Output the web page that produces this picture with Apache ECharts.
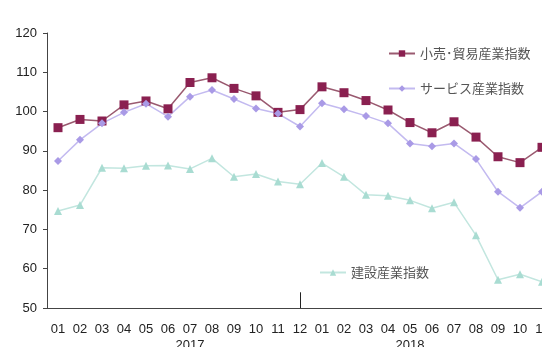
<!DOCTYPE html>
<html>
<head>
<meta charset="utf-8">
<title>産業指数の推移</title>
<script src="https://cdn.jsdelivr.net/npm/echarts@6/dist/echarts.min.js"></script>
<style>
  html, body { margin: 0; padding: 0; background: #fff; }
  #chart { width: 542px; height: 347px; }
</style>
</head>
<body>
<div id="chart"></div>
<script>
// months 2017-01 .. 2018-11
var months = ['01','02','03','04','05','06','07','08','09','10','11','12',
              '01','02','03','04','05','06','07','08','09','10','11'];
var yearAt = { 6: '2017', 16: '2018' };

var retail = [95.9, 98.0, 97.6, 101.7, 102.7, 100.7, 107.4, 108.6, 105.9, 104.0, 99.8, 100.5,
              106.3, 104.8, 102.8, 100.4, 97.2, 94.6, 97.4, 93.5, 88.5, 87.0, 90.9];
var service = [87.4, 92.8, 97.0, 99.8, 102.0, 98.7, 103.8, 105.5, 103.2, 100.8, 99.5, 96.2,
               102.1, 100.6, 98.9, 97.0, 91.9, 91.2, 91.9, 87.9, 79.6, 75.5, 79.6];
var construction = [74.7, 76.2, 85.7, 85.6, 86.2, 86.3, 85.4, 88.1, 83.4, 84.1, 82.2, 81.5,
                    86.9, 83.4, 78.8, 78.6, 77.4, 75.4, 76.9, 68.5, 57.2, 58.6, 56.7];

var names = ['小売･貿易産業指数', 'サービス産業指数', '建設産業指数'];

var chart = echarts.init(document.getElementById('chart'));
var font = 'Liberation Sans, Arial, sans-serif';
var jpFont = 'Noto Sans CJK JP, sans-serif';

var legendBase = {
  orient: 'vertical',
  itemWidth: 26,
  itemHeight: 8,
  textStyle: { fontFamily: jpFont, fontSize: 13, color: '#555' }
};

chart.setOption({
  animation: false,
  backgroundColor: '#fff',
  legend: [
    Object.assign({}, legendBase, { data: [names[0], names[1]], left: 383, top: 42, itemGap: 22 }),
    Object.assign({}, legendBase, { data: [names[2]], left: 314, top: 261 })
  ],
  // the source chart runs past the right and bottom edges of the picture
  grid: { left: 47, width: 506, top: 33, bottom: 39, outerBoundsMode: 'none' },
  xAxis: {
    type: 'category',
    data: months,
    boundaryGap: true,
    axisLine: { lineStyle: { color: '#444', width: 1 } },
    axisTick: { alignWithLabel: true, length: 4, lineStyle: { color: '#444' } },
    axisLabel: {
      interval: 0,
      margin: 13,
      fontFamily: font,
      fontSize: 13,
      color: '#222',
      lineHeight: 16,
      formatter: function (v, i) { return yearAt[i] ? v + '\n' + yearAt[i] : v; }
    }
  },
  yAxis: {
    type: 'value',
    min: 50, max: 120, interval: 10,
    splitLine: { show: false },
    axisLine: { show: true, lineStyle: { color: '#444' } },
    axisTick: { show: true, length: 4, lineStyle: { color: '#444' } },
    axisLabel: { fontFamily: font, fontSize: 13, color: '#222', margin: 10 }
  },
  series: [{
    name: names[0],
    type: 'line',
    data: retail,
    symbol: 'rect',
    symbolSize: 9,
    itemStyle: { color: '#8a2050' },
    lineStyle: { color: '#9a5a70', width: 1.5 },
    // year divider tick at December 2017
    markLine: {
      silent: true,
      symbol: 'none',
      label: { show: false },
      lineStyle: { color: '#222', width: 1, type: 'solid' },
      data: [[{ coord: [11, 50] }, { coord: [11, 54] }]]
    }
  }, {
    name: names[1],
    type: 'line',
    data: service,
    symbol: 'diamond',
    symbolSize: 8,
    itemStyle: { color: '#a99ae6' },
    lineStyle: { color: '#c3baf0', width: 1.5 }
  }, {
    name: names[2],
    type: 'line',
    data: construction,
    symbol: 'triangle',
    symbolSize: 8,
    itemStyle: { color: '#a9dcd2' },
    lineStyle: { color: '#c2e6df', width: 1.5 }
  }]
});
</script>
</body>
</html>
